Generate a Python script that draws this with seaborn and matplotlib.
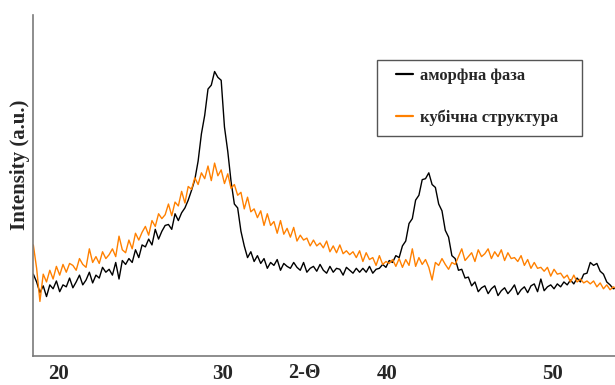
import matplotlib
matplotlib.use("Agg")
import matplotlib.pyplot as plt
from matplotlib.patches import Rectangle
from matplotlib.ticker import FixedLocator, MultipleLocator
import seaborn as sns
import pandas as pd

# ---- data ----
two_theta = [
    18.5, 18.7, 18.9, 19.1, 19.3, 19.5, 19.7, 19.9, 20.1, 20.3,
    20.5, 20.7, 20.9, 21.1, 21.3, 21.5, 21.7, 21.9, 22.1, 22.3,
    22.5, 22.7, 22.9, 23.1, 23.3, 23.5, 23.7, 23.9, 24.1, 24.3,
    24.5, 24.7, 24.9, 25.1, 25.3, 25.5, 25.7, 25.9, 26.1, 26.3,
    26.5, 26.7, 26.9, 27.1, 27.3, 27.5, 27.7, 27.9, 28.1, 28.3,
    28.5, 28.7, 28.9, 29.1, 29.3, 29.5, 29.7, 29.9, 30.1, 30.3,
    30.5, 30.7, 30.9, 31.1, 31.3, 31.5, 31.7, 31.9, 32.1, 32.3,
    32.5, 32.7, 32.9, 33.1, 33.3, 33.5, 33.7, 33.9, 34.1, 34.3,
    34.5, 34.7, 34.9, 35.1, 35.3, 35.5, 35.7, 35.9, 36.1, 36.3,
    36.5, 36.7, 36.9, 37.1, 37.3, 37.5, 37.7, 37.9, 38.1, 38.3,
    38.5, 38.7, 38.9, 39.1, 39.3, 39.5, 39.7, 39.9, 40.1, 40.3,
    40.5, 40.7, 40.9, 41.1, 41.3, 41.5, 41.7, 41.9, 42.1, 42.3,
    42.5, 42.7, 42.9, 43.1, 43.3, 43.5, 43.7, 43.9, 44.1, 44.3,
    44.5, 44.7, 44.9, 45.1, 45.3, 45.5, 45.7, 45.9, 46.1, 46.3,
    46.5, 46.7, 46.9, 47.1, 47.3, 47.5, 47.7, 47.9, 48.1, 48.3,
    48.5, 48.7, 48.9, 49.1, 49.3, 49.5, 49.7, 49.9, 50.1, 50.3,
    50.5, 50.7, 50.9, 51.1, 51.3, 51.5, 51.7, 51.9, 52.1, 52.3,
    52.5, 52.7, 52.9, 53.1, 53.3, 53.5, 53.7, 53.9,
]

amorphous = [
    8.4, 7.6, 6.5, 7.2, 6.1, 7.3, 6.9, 7.7, 6.6, 7.3,
    7.1, 8.0, 7.0, 7.6, 8.3, 7.3, 7.8, 8.6, 7.5, 8.3,
    8.0, 9.1, 8.6, 8.9, 8.3, 9.6, 7.9, 9.8, 9.4, 10.0,
    9.6, 10.9, 10.1, 11.4, 11.2, 12.0, 11.4, 13.0, 12.0, 12.8,
    13.4, 13.5, 13.0, 14.6, 13.9, 14.7, 15.2, 16.0, 17.0, 18.1,
    20.0, 22.8, 24.7, 27.4, 27.8, 29.2, 28.6, 28.3, 23.5, 21.0,
    17.9, 15.6, 15.2, 12.8, 11.3, 10.1, 10.7, 9.7, 10.3, 9.5,
    10.0, 9.0, 9.6, 9.3, 9.9, 8.8, 9.5, 9.2, 9.0, 9.6,
    9.1, 8.8, 9.6, 8.6, 9.0, 9.2, 8.7, 9.4, 8.8, 8.5,
    9.2, 8.6, 9.0, 8.9, 8.3, 9.1, 8.8, 8.5, 9.0, 8.6,
    9.0, 8.6, 9.2, 8.5, 8.9, 9.0, 9.4, 9.1, 9.8, 9.6,
    10.3, 10.1, 11.3, 11.8, 13.6, 14.1, 16.0, 16.5, 18.1, 18.2,
    18.8, 17.6, 17.3, 15.6, 14.9, 12.9, 12.2, 10.3, 10.0, 8.8,
    8.9, 8.0, 8.1, 7.2, 7.6, 6.6, 7.0, 7.2, 6.4, 6.9,
    7.2, 6.2, 6.7, 7.0, 6.4, 6.8, 7.3, 6.3, 6.8, 7.1,
    6.5, 7.2, 7.4, 6.6, 7.9, 6.7, 7.1, 7.3, 6.9, 7.4,
    7.1, 7.6, 7.3, 7.8, 7.4, 8.0, 7.6, 8.4, 8.5, 9.6,
    9.3, 9.5, 8.7, 8.4, 7.6, 7.3, 6.9, 7.0,
]

cubic = [
    11.4, 9.0, 5.6, 8.4, 7.6, 8.8, 7.9, 9.2, 8.3, 9.4,
    8.6, 9.5, 9.3, 8.8, 10.0, 9.4, 9.1, 11.0, 9.6, 10.2,
    9.5, 10.7, 10.0, 10.4, 11.0, 10.2, 12.3, 10.9, 10.6, 11.9,
    11.0, 12.6, 11.9, 12.7, 13.3, 12.4, 13.9, 13.3, 14.6, 14.1,
    14.5, 15.6, 14.4, 15.8, 15.4, 16.9, 15.7, 17.4, 17.1, 18.3,
    17.6, 18.8, 18.2, 19.5, 18.0, 19.8, 18.5, 19.1, 17.7, 18.7,
    17.2, 17.6, 16.5, 16.8, 15.1, 16.3, 14.8, 15.1, 14.2, 14.9,
    13.4, 14.6, 13.4, 13.8, 12.6, 13.9, 12.5, 13.1, 12.2, 13.2,
    11.8, 12.4, 11.9, 12.1, 11.3, 11.9, 11.3, 11.6, 11.1, 11.8,
    10.7, 11.3, 10.6, 11.4, 10.5, 10.8, 10.4, 10.7, 10.1, 10.8,
    9.7, 10.6, 9.9, 10.1, 9.3, 10.3, 9.4, 9.7, 9.5, 9.9,
    9.2, 10.0, 9.1, 9.9, 9.3, 11.0, 9.2, 10.1, 9.4, 9.9,
    9.1, 7.8, 9.6, 9.3, 10.0, 9.4, 8.9, 9.6, 9.4, 10.2,
    11.0, 9.8, 10.2, 10.6, 9.7, 10.9, 10.2, 10.5, 11.0, 10.0,
    10.7, 10.2, 10.9, 9.8, 10.6, 10.0, 10.1, 9.7, 10.3, 9.3,
    9.9, 9.0, 9.6, 9.0, 9.1, 8.7, 9.1, 8.2, 8.9, 8.4,
    8.5, 8.0, 8.3, 7.6, 8.3, 7.6, 7.9, 7.5, 7.7, 7.4,
    7.7, 7.1, 7.5, 6.9, 7.3, 6.8, 7.1, 6.9,
]

series_names = ["аморфна фаза", "кубічна структура"]
series_colors = ["#000000", "#ff8000"]
x_tick_values = [20, 30, 40, 50]
x_label = "2-Θ"
y_label = "Intensity (a.u.)"

df = pd.DataFrame({
    "two_theta": two_theta * 2,
    "intensity": amorphous + cubic,
    "series": [series_names[0]] * len(amorphous) + [series_names[1]] * len(cubic),
})

# ---- style ----
sns.set_style("white")
plt.rcParams["font.family"] = ["Liberation Serif", "DejaVu Serif"]
plt.rcParams["font.weight"] = "bold"

fig = plt.figure(figsize=(6.15, 3.85), dpi=100)
W, H = 615, 385
ax = fig.add_axes([33 / W, (H - 356) / H, (615 - 33) / W, (356 - 15) / H])

sns.lineplot(data=df, x="two_theta", y="intensity", hue="series",
             hue_order=series_names, palette=series_colors,
             estimator=None, sort=False, linewidth=1.0, legend=False, ax=ax)

ax.set_xlim(18.48, 53.8)
ax.set_ylim(0, 35)

spine_color = "#7a7a7a"
for side in ["top", "right"]:
    ax.spines[side].set_visible(False)
for side in ["left", "bottom"]:
    ax.spines[side].set_color(spine_color)
    ax.spines[side].set_linewidth(1.2)

ax.xaxis.set_major_locator(FixedLocator(x_tick_values))
ax.xaxis.set_minor_locator(MultipleLocator(1))
ax.set_xticklabels([str(v) for v in x_tick_values], fontsize=15, fontweight="bold")
ax.tick_params(axis="x", which="major", direction="out", length=3, width=1,
               color=spine_color, pad=3)
ax.tick_params(axis="x", which="minor", direction="out", length=3, width=1,
               color=spine_color)

ax.yaxis.set_major_locator(FixedLocator([8, 18, 28]))
ax.yaxis.set_minor_locator(MultipleLocator(1))
ax.set_yticklabels([])
ax.tick_params(axis="y", which="major", direction="out", length=5, width=1,
               color=spine_color)
ax.tick_params(axis="y", which="minor", direction="out", length=3, width=1,
               color=spine_color)

ax.set_xlabel("")
ax.set_ylabel("")
fig.text(304 / W, 2 / H, x_label, ha="center", va="bottom",
         fontsize=14.5, fontweight="bold")
fig.text(20 / W, 1 - 165 / H, y_label, ha="center", va="center",
         rotation=90, fontsize=15, fontweight="bold")

# ---- legend ----
handles = ax.get_lines()[:2]
leg = ax.legend(handles, series_names, loc="upper left",
                bbox_to_anchor=(396 / W, 1 - 68 / H), bbox_transform=fig.transFigure,
                frameon=False, handlelength=1.0, handletextpad=0.45,
                labelspacing=1.5, borderpad=0, borderaxespad=0,
                prop={"family": ["Liberation Serif"], "weight": "bold", "size": 12})
for line in leg.get_lines():
    line.set_linewidth(1.6)
fig.patches.append(Rectangle((377 / W, 1 - 136 / H), (582 - 377) / W, (136 - 60) / H,
                             transform=fig.transFigure, fill=False,
                             edgecolor="#555555", linewidth=1.0))

fig.savefig("out.png", dpi=100)
